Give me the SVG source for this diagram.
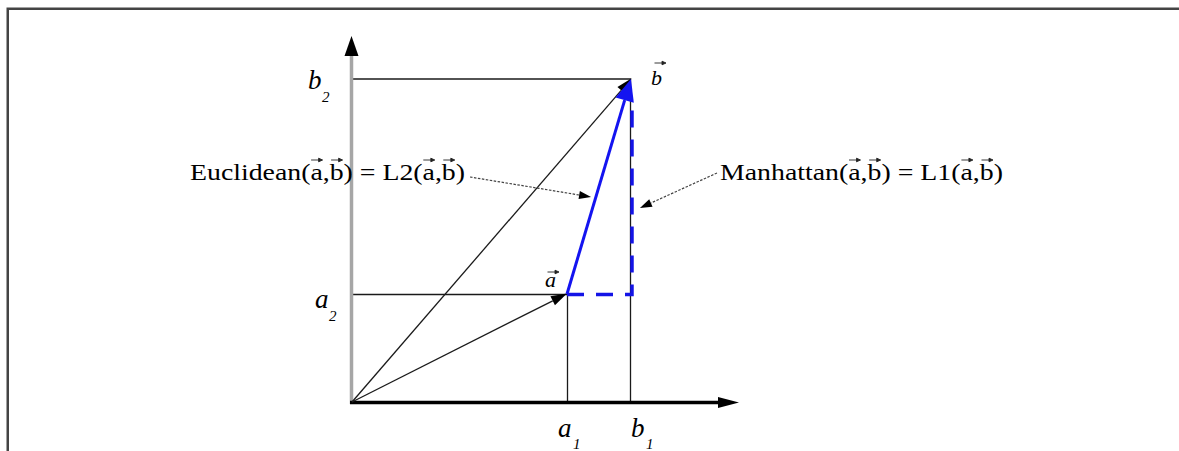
<svg xmlns="http://www.w3.org/2000/svg" width="1179" height="451" viewBox="0 0 1179 451">
<style>
.t{font-family:"Liberation Serif","Times New Roman",serif;fill:#000}
.lbl{font-size:24px}
.it{font-style:italic;font-size:27px}
.itv{font-style:italic;font-size:22px}
.sub{font-style:italic;font-size:15px}
.acc{stroke:#222;stroke-width:0.9;fill:#222}
.thin{stroke:#1a1a1a;stroke-width:1.3;fill:none}
.blue{stroke:#1414f0;stroke-width:3;fill:none}
.dash{stroke:#1414e6;stroke-width:3.5;stroke-dasharray:17 12;fill:none}
.lead{stroke:#444;stroke-width:1.2;stroke-dasharray:2.5 1.5;fill:none}
</style>
<defs>
<marker id="mkY" markerUnits="userSpaceOnUse" orient="auto" markerWidth="20" markerHeight="14" refX="0" refY="7" overflow="visible"><path d="M0,0 L20,7 L0,14 z" fill="#000"/></marker>
<marker id="mkX" markerUnits="userSpaceOnUse" orient="auto" markerWidth="21" markerHeight="11" refX="0" refY="5.5" overflow="visible"><path d="M0,0 L21,5.5 L0,11 z" fill="#000"/></marker>
<marker id="mkV" markerUnits="userSpaceOnUse" orient="auto" markerWidth="16" markerHeight="10" refX="0" refY="5" overflow="visible"><path d="M0,0 L16,5 L0,10 z" fill="#000"/></marker>
<marker id="mkB" markerUnits="userSpaceOnUse" orient="auto" markerWidth="22" markerHeight="19" refX="0" refY="9.5" overflow="visible"><path d="M0,0 L22,9.5 L0,19 z" fill="#1414f0"/></marker>
<marker id="mkL" markerUnits="userSpaceOnUse" orient="auto" markerWidth="12" markerHeight="8" refX="0" refY="4" overflow="visible"><path d="M0,0 L12,4 L0,8 z" fill="#000"/></marker>
<path id="acc" class="acc" d="M-5.5,0 H2 M2,-1.8 L6,0 L2,1.8 z"/>
</defs>
<rect width="1179" height="451" fill="#fff"/>
<g id="frame"><path d="M7.75,451 V8.75 H1179" stroke="#444" stroke-width="2.5" fill="none"/></g>
<g id="guides">
<line class="thin" x1="352" y1="79" x2="631" y2="79"/>
<line class="thin" x1="352" y1="294.5" x2="567" y2="294.5"/>
<line class="thin" x1="567.5" y1="294" x2="567.5" y2="402"/>
<line class="thin" x1="630.5" y1="79" x2="630.5" y2="402"/>
</g>
<g id="axes">
<line x1="351.5" y1="404" x2="351.5" y2="56" stroke="#a6a6a6" stroke-width="3.5" marker-end="url(#mkY)"/>
<line x1="350" y1="402.5" x2="718" y2="402.5" stroke="#000" stroke-width="3.5" marker-end="url(#mkX)"/>
</g>
<g id="vectors">
<path class="thin" d="M352,402 L621.2,90.35" marker-end="url(#mkV)"/>
<path class="thin" d="M352,402 L552.7,300.8" marker-end="url(#mkV)"/>
<path class="dash" d="M567,294.5 H632 V100"/>
<path class="blue" d="M567,294 L624.7,100.1" marker-end="url(#mkB)"/>
</g>
<g id="connectors">
<path class="lead" d="M470,177 L579.2,195" marker-end="url(#mkL)"/>
<path class="lead" d="M717,173 L650.9,203" marker-end="url(#mkL)"/>
</g>
<g id="euclidean-label">
<text class="t lbl" x="190" y="180" textLength="275" lengthAdjust="spacingAndGlyphs">Euclidean(a,b) = L2(a,b)</text>
<use href="#acc" x="316.6" y="160"/>
<use href="#acc" x="336.6" y="160"/>
<use href="#acc" x="428.8" y="160"/>
<use href="#acc" x="448.8" y="160"/>
</g>
<g id="manhattan-label">
<text class="t lbl" x="720" y="180" textLength="283" lengthAdjust="spacingAndGlyphs">Manhattan(a,b) = L1(a,b)</text>
<use href="#acc" x="854.5" y="160"/>
<use href="#acc" x="874.7" y="160"/>
<use href="#acc" x="966.9" y="160"/>
<use href="#acc" x="987" y="160"/>
</g>
<g id="vector-labels">
<text class="t itv" x="651" y="85">b</text>
<use href="#acc" x="660" y="63"/>
<text class="t itv" x="545" y="287">a</text>
<use href="#acc" x="553" y="272"/>
</g>
<g id="axis-labels">
<text class="t it" x="308" y="89">b</text><text class="t sub" x="322" y="102">2</text>
<text class="t it" x="315" y="308">a</text><text class="t sub" x="329" y="321">2</text>
<text class="t it" x="558" y="437">a</text><text class="t sub" x="573" y="449">1</text>
<text class="t it" x="631" y="437">b</text><text class="t sub" x="646" y="449">1</text>
</g>
</svg>
